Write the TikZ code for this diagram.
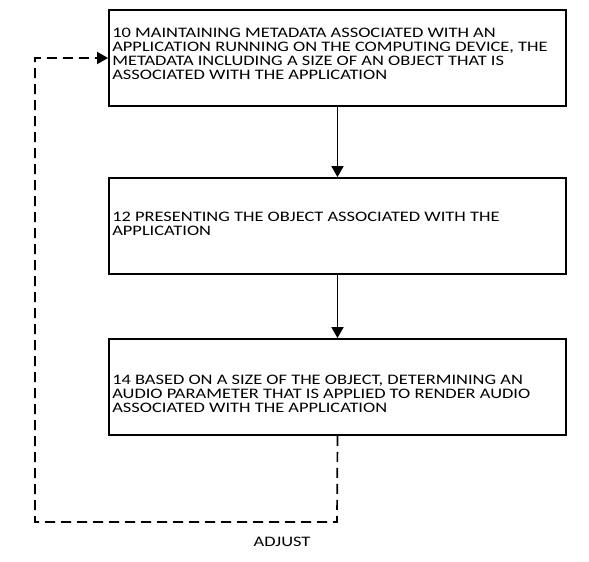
\documentclass[tikz,border=0pt]{standalone}
\usepackage{fontspec}
\setmainfont[FakeStretch=1.27]{Carlito}
\usetikzlibrary{arrows.meta}
\begin{document}
\begin{tikzpicture}[x=1pt,y=1pt,
  box/.style={draw=black, line width=1.8pt, minimum width=457pt, minimum height=96pt, inner sep=0pt},
  txt/.style={inner sep=0pt, align=left, font=\fontsize{14.5}{14}\selectfont},
  tip/.style={-{Triangle[length=11pt,width=12pt]}},
  flow/.style={line width=1.7pt, tip},
  fb/.style={line width=1.7pt, dash pattern=on 10pt off 6pt}]
\useasboundingbox (0,0) rectangle (589,-562);
\node[box] (b1) at (337.5,-58) {};
\node[box] (b2) at (337.5,-226) {};
\node[box] (b3) at (337.5,-387) {};
\node[txt, anchor=west] (t1) at ([xshift=4pt,yshift=4pt]b1.west) {10 MAINTAINING METADATA ASSOCIATED WITH AN\\APPLICATION RUNNING ON THE COMPUTING DEVICE, THE\\METADATA INCLUDING A SIZE OF AN OBJECT THAT IS\\ASSOCIATED WITH THE APPLICATION};
\node[txt, anchor=west] (t2) at ([xshift=4pt,yshift=2pt]b2.west) {12 PRESENTING THE OBJECT ASSOCIATED WITH THE\\APPLICATION};
\node[txt, anchor=west] (t3) at ([xshift=4pt,yshift=-7pt]b3.west) {14 BASED ON A SIZE OF THE OBJECT, DETERMINING AN\\AUDIO PARAMETER THAT IS APPLIED TO RENDER AUDIO\\ASSOCIATED WITH THE APPLICATION};
\coordinate (c1) at (337,-522);
\coordinate (c2) at (35,-522);
\coordinate (c3) at (35,-58);
\node[txt] (adj) at (282,-542) {ADJUST};
\draw[flow] (b1.south) -- (b2.north);
\draw[flow] (b2.south) -- (b3.north);
\draw[fb] (b3.south) -- (c1) -- (c2) -- (c3) -- (b1.west);
\draw[line width=1.7pt, tip] ([xshift=-12pt]b1.west) -- (b1.west);
\end{tikzpicture}
\end{document}
